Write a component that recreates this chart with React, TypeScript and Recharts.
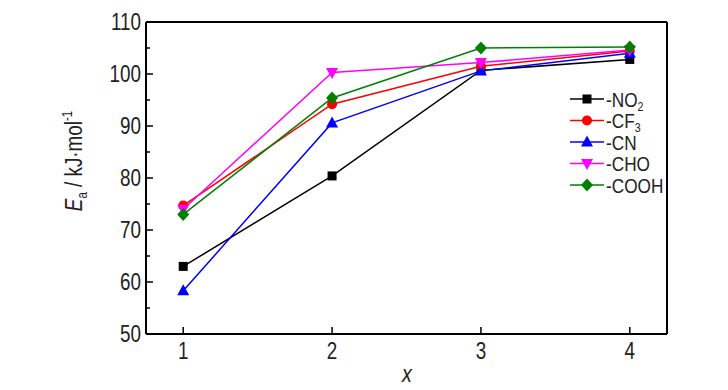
import React from 'react';
import { LineChart, Line, XAxis, YAxis, ReferenceLine } from 'recharts';

const FONT = "'Liberation Sans', Arial, sans-serif";
const NARROW = 0.82;

const xValues = [1, 2, 3, 4];
const no2 = [63.0, 80.4, 100.7, 102.8];
const cf3 = [74.7, 94.2, 101.5, 104.4];
const cn = [58.3, 90.6, 100.6, 104.0];
const cho = [74.0, 100.3, 102.2, 104.6];
const cooh = [73.0, 95.4, 105.0, 105.2];

const xTicks = [1, 2, 3, 4];
const yTicks = [50, 55, 60, 65, 70, 75, 80, 85, 90, 95, 100, 105, 110];

const seriesKeys = ['no2', 'cf3', 'cn', 'cho', 'cooh'];
const seriesBase = ['-NO', '-CF', '-CN', '-CHO', '-COOH'];
const seriesSub = ['2', '3', '', '', ''];
const seriesColors = ['#000000', '#ff0000', '#0000ff', '#ff00ff', '#008000'];
const seriesShapes = ['square', 'circle', 'triangle', 'triangleDown', 'diamond'];
const seriesValues = [no2, cf3, cn, cho, cooh];

const data = xValues.map((x, i) => {
  const row: Record<string, number> = { x };
  seriesKeys.forEach((k, s) => {
    row[k] = seriesValues[s][i];
  });
  return row;
});

function Marker({ cx, cy, shape, color }: { cx: number; cy: number; shape: string; color: string }) {
  if (cx == null || cy == null) return null;
  switch (shape) {
    case 'square':
      return <rect x={cx - 4.5} y={cy - 4.5} width={9} height={9} fill={color} />;
    case 'circle':
      return <circle cx={cx} cy={cy} r={5} fill={color} />;
    case 'triangle':
      return <polygon points={`${cx},${cy - 6.5} ${cx + 6},${cy + 4.5} ${cx - 6},${cy + 4.5}`} fill={color} />;
    case 'triangleDown':
      return <polygon points={`${cx},${cy + 6.5} ${cx + 6},${cy - 4.5} ${cx - 6},${cy - 4.5}`} fill={color} />;
    case 'diamond':
      return <polygon points={`${cx},${cy - 6.5} ${cx + 6},${cy} ${cx},${cy + 6.5} ${cx - 6},${cy}`} fill={color} />;
    default:
      return null;
  }
}

function NarrowText({
  x,
  y,
  rotate = 0,
  children,
  ...rest
}: {
  x: number;
  y: number;
  rotate?: number;
  children: React.ReactNode;
  [key: string]: any;
}) {
  return (
    <g transform={`translate(${x},${y}) rotate(${rotate}) scale(${NARROW},1)`}>
      <text x={0} y={0} fontFamily={FONT} fill="#222" {...rest}>
        {children}
      </text>
    </g>
  );
}

const YTick = (props: any) => {
  const { x, y, payload } = props;
  const v = payload.value;
  const major = v % 10 === 0;
  return (
    <g>
      <line x1={x} x2={x + (major ? 7 : 4)} y1={y} y2={y} stroke="#000" strokeWidth={1.5} />
      {major && (
        <NarrowText x={x - 5} y={y + 8} textAnchor="end" fontSize={23}>
          {v}
        </NarrowText>
      )}
    </g>
  );
};

const XTick = (props: any) => {
  const { x, y, payload } = props;
  return (
    <g>
      <line x1={x} x2={x} y1={y} y2={y - 7} stroke="#000" strokeWidth={1.5} />
      <NarrowText x={x} y={y + 25} textAnchor="middle" fontSize={23}>
        {payload.value}
      </NarrowText>
    </g>
  );
};

export default function App() {
  return (
    <div style={{ position: 'absolute', left: 0, top: 0, width: 728, height: 390, background: '#fff' }}>
      <LineChart width={728} height={390} data={data} margin={{ top: 22, right: 61, bottom: 0, left: 0 }}>
        <XAxis
          dataKey="x"
          type="number"
          domain={[0.75, 4.25]}
          ticks={xTicks}
          interval={0}
          allowDataOverflow
          height={56}
          tickSize={0}
          tickMargin={0}
          tickLine={false}
          axisLine={{ stroke: '#000', strokeWidth: 2 }}
          tick={<XTick />}
        />
        <YAxis
          type="number"
          domain={[50, 110]}
          ticks={yTicks}
          interval={0}
          allowDataOverflow
          width={146}
          tickSize={0}
          tickMargin={0}
          tickLine={false}
          axisLine={{ stroke: '#000', strokeWidth: 2 }}
          tick={<YTick />}
        />
        <ReferenceLine y={110} stroke="#000" strokeWidth={2} />
        <ReferenceLine x={4.25} stroke="#000" strokeWidth={2} />
        {seriesKeys.map((k, s) => (
          <Line
            key={k}
            dataKey={k}
            type="linear"
            stroke={seriesColors[s]}
            strokeWidth={1.5}
            isAnimationActive={false}
            dot={(p: any) => (
              <Marker key={`${k}-${p.index}`} cx={p.cx} cy={p.cy} shape={seriesShapes[s]} color={seriesColors[s]} />
            )}
            activeDot={false}
          />
        ))}
      </LineChart>
      <svg width={728} height={390} style={{ position: 'absolute', left: 0, top: 0, pointerEvents: 'none' }}>
        <NarrowText x={82} y={161} rotate={-90} textAnchor="middle" fontSize={23}>
          <tspan fontStyle="italic">E</tspan>
          <tspan fontSize={14} dy={5}>a</tspan>
          <tspan dy={-5}> / kJ·mol</tspan>
          <tspan fontSize={14} dy={-10}>-1</tspan>
        </NarrowText>
        <NarrowText x={407} y={382} textAnchor="middle" fontSize={24} fontStyle="italic">
          x
        </NarrowText>
        {seriesKeys.map((k, s) => {
          const cy = 99 + s * 21.5;
          return (
            <g key={`lg-${k}`}>
              <line x1={570} x2={604} y1={cy} y2={cy} stroke={seriesColors[s]} strokeWidth={1.5} />
              <Marker cx={587} cy={cy} shape={seriesShapes[s]} color={seriesColors[s]} />
              <NarrowText x={606} y={cy + 7.5} fontSize={21}>
                {seriesBase[s]}
                {seriesSub[s] && (
                  <tspan fontSize={13} dy={4}>
                    {seriesSub[s]}
                  </tspan>
                )}
              </NarrowText>
            </g>
          );
        })}
      </svg>
    </div>
  );
}
